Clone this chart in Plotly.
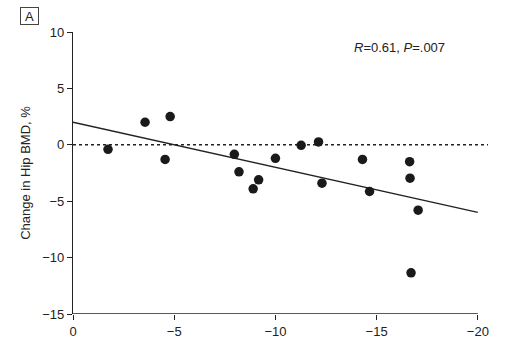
import plotly.graph_objects as go

# Data
bmd_x = [-1.73, -3.56, -4.8, -4.55, -7.97, -8.2, -8.9, -9.17, -10.0, -11.27,
         -12.13, -12.3, -14.3, -14.65, -16.63, -16.65, -17.05, -16.7]
hip_y = [-0.4, 2.0, 2.5, -1.3, -0.84, -2.4, -3.9, -3.1, -1.2, -0.05,
         0.25, -3.4, -1.3, -4.14, -1.5, -2.96, -5.8, -11.35]
fit_x = [0, -20]
fit_y = [2.0, -6.0]
ref_x = [0, -20.5]
ref_y = [0, 0]
x_ticks = [0, -5, -10, -15, -20]
y_ticks = [10, 5, 0, -5, -10, -15]

FONT = "Liberation Sans Narrow, Arial Narrow, Liberation Sans, sans-serif"

W, H = 507, 341
L, R, T, B = 73, 17, 32, 27
PW, PH = W - L - R, H - T - B


def px_to_paper(px, py):
    return (px - L) / PW, 1 - (py - T) / PH


fig = go.Figure()
fig.add_trace(go.Scatter(x=ref_x, y=ref_y, mode="lines",
                         line=dict(color="#222", width=1.6, dash="dot"),
                         hoverinfo="skip", showlegend=False))
fig.add_trace(go.Scatter(x=fit_x, y=fit_y, mode="lines",
                         line=dict(color="#222", width=1.3),
                         showlegend=False))
fig.add_trace(go.Scatter(x=bmd_x, y=hip_y, mode="markers",
                         marker=dict(color="#1a1a1a", size=9.5),
                         showlegend=False))

# x axis line drawn from 0 to -20 only
fig.add_shape(type="line", xref="x", yref="y", x0=0, x1=-20, y0=-15, y1=-15,
              line=dict(color="#222", width=1.3))

ax, ay = px_to_paper(399, 48)
fig.add_annotation(x=ax, xref="paper", y=ay, yref="paper",
                   xanchor="center", yanchor="middle",
                   text="<i>R</i>=0.61, <i>P</i>=.007", showarrow=False,
                   font=dict(family=FONT, size=13, color="#222"))

bx, by = px_to_paper(29.5, 16.5)
fig.add_annotation(x=bx, y=by, xref="paper", yref="paper",
                   xanchor="center", yanchor="middle",
                   text="A", showarrow=False,
                   font=dict(family=FONT, size=13, color="#222"),
                   bordercolor="#444", borderwidth=1, borderpad=1,
                   width=15, height=14)

fig.update_layout(
    width=W, height=H,
    margin=dict(l=L, r=R, t=T, b=B, autoexpand=False),
    plot_bgcolor="white", paper_bgcolor="white",
    font=dict(family=FONT, size=13, color="#222"),
    xaxis=dict(range=[0, -20.6], tickvals=x_ticks, ticks="outside", ticklen=5,
               tickwidth=1.3, tickcolor="#222", showline=False, showgrid=False,
               zeroline=False, tickfont=dict(size=13), automargin=False),
    yaxis=dict(range=[-15, 10], tickvals=y_ticks, ticks="outside", ticklen=5,
               tickwidth=1.3, tickcolor="#222", showline=True, linecolor="#222",
               linewidth=1.3, showgrid=False, zeroline=False, automargin=False,
               title=dict(text="Change in Hip BMD, %", standoff=8,
                          font=dict(size=13)),
               tickfont=dict(size=13)),
)

fig.write_html("out.html", config={"displayModeBar": False},
               post_script="document.body.style.margin='0';document.body.style.padding='0';")
